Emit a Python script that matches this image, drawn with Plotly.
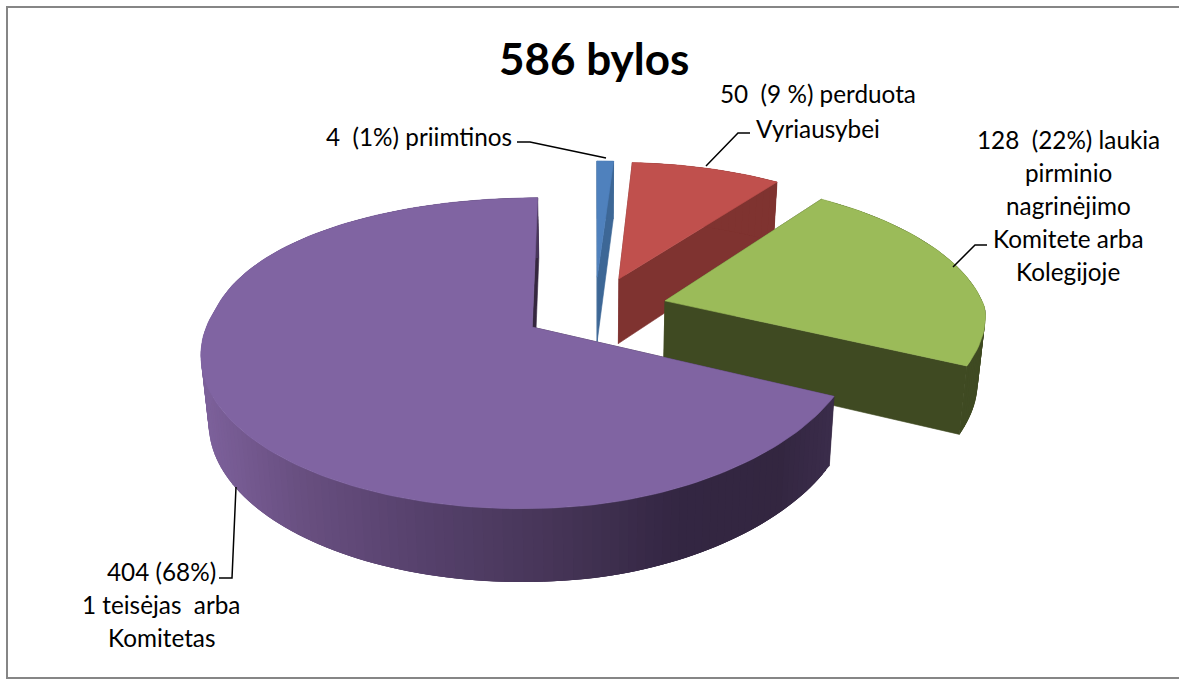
import math
import plotly.graph_objects as go

# ---- data ----
percent_shares = [1, 9, 22, 68]
top_colors = ["#4F81BD", "#C0504D", "#9BBB59", "#8064A2"]
side_colors = ["#3D6796", "#7F3330", "#3F4A22", "#35273F"]
title = "586 bylos"
label_lines = [
    ["4  (1%) priimtinos"],
    ["50  (9 %) perduota", "Vyriausybei"],
    ["128  (22%) laukia", "pirminio", "nagrinėjimo", "Komitete arba", "Kolegijoje"],
    ["404 (68%)", "1 teisėjas  arba", "Komitetas"],
]
label_x = [419, 818, 1068, 161]
label_y0 = [136, 93, 139, 571]
label_step = [33, 35, 33, 33]
purple_stops = [(205, (0x7C, 0x60, 0x9A)), (300, (0x68, 0x4F, 0x80)), (420, (0x56, 0x41, 0x6C)),
                (560, (0x45, 0x34, 0x56)), (680, (0x33, 0x26, 0x42)), (780, (0x33, 0x26, 0x40)),
                (830, (0x3A, 0x2C, 0x4A))]
leaders = [
    [(517, 142), (530, 142), (606, 158)],
    [(750, 133), (738, 133), (706, 166)],
    [(987, 245), (975, 245), (953, 267)],
    [(219, 578), (232, 578), (236, 487)],
]

# ---- projection of the exploded, tilted pie ----
OX, OY, A, B, K, KX, DEPTH, EXPLODE = 595, 309, 320, 145, 0.165, 0.085, 66, 0.228


def project(u, v, low=False):
    w = 1 + K * v
    if u > 0:
        wx = 1 + (K if v > 0 else KX) * v
    else:
        wx = 1 + (KX if v > 0 else 0.15) * v
    x = OX + A * u / wx
    y = OY - B * v / w
    if low:
        x = OX + (x - OX) * 0.98
        y += DEPTH * (1 - 0.1 * v)
    return x, y


def purple_at(x):
    if x <= purple_stops[0][0]:
        c = purple_stops[0][1]
    elif x >= purple_stops[-1][0]:
        c = purple_stops[-1][1]
    else:
        for (x0, c0), (x1, c1) in zip(purple_stops, purple_stops[1:]):
            if x0 <= x <= x1:
                t = (x - x0) / (x1 - x0)
                c = tuple(a + (b - a) * t for a, b in zip(c0, c1))
                break
    return "rgb(%d,%d,%d)" % tuple(round(p) for p in c)


fig = go.Figure()


def poly(points, color, stroke=0.6):
    xs = [p[0] for p in points] + [points[0][0]]
    ys = [p[1] for p in points] + [points[0][1]]
    fig.add_trace(go.Scatter(x=xs, y=ys, mode="lines", fill="toself", fillcolor=color,
                             line=dict(color=color, width=stroke), hoverinfo="skip", showlegend=False))


total = sum(percent_shares)
start = 0.0
for val, tc, sc in zip(percent_shares, top_colors, side_colors):
    sweep = 2 * math.pi * val / total
    end = start + sweep
    mid = (start + end) / 2
    u0, v0 = EXPLODE * math.sin(mid), EXPLODE * math.cos(mid)
    n = max(3, int(sweep / math.radians(1.5)))
    angles = [start + sweep * i / n for i in range(n + 1)]
    rim = [(u0 + math.sin(a), v0 + math.cos(a)) for a in angles]
    # cut faces
    for (u, v) in (rim[0], rim[-1]):
        poly([project(u0, v0), project(u, v), project(u, v, True), project(u0, v0, True)], sc)
    # outer wall: each piece overlaps the next so no seams show
    for i in range(len(rim) - 1):
        j = min(i + 3, len(rim) - 1)
        part = rim[i:j + 1]
        a, b = project(*rim[i]), project(*rim[i + 1])
        color = purple_at((a[0] + b[0]) / 2) if tc == "#8064A2" else sc
        pts = [project(*p) for p in part] + [project(*p, True) for p in reversed(part)]
        poly(pts, color, 0)
    # top face
    poly([project(u0, v0)] + [project(u, v) for u, v in rim], tc)
    start = end

for path in leaders:
    fig.add_trace(go.Scatter(x=[p[0] for p in path], y=[p[1] for p in path], mode="lines",
                             line=dict(color="black", width=1.5), hoverinfo="skip", showlegend=False))

annotations = [dict(x=594, y=58, text="<b>%s</b>" % title, showarrow=False, xref="x", yref="y",
                    font=dict(family="Lato", size=44, color="black"))]
for lines, x, y0, step in zip(label_lines, label_x, label_y0, label_step):
    for i, line in enumerate(lines):
        annotations.append(dict(x=x, y=y0 + i * step, text=line.replace("  ", "&nbsp; "),
                                showarrow=False, xref="x", yref="y",
                                font=dict(family="Lato", size=24.3, color="black")))

fig.update_layout(
    width=1179, height=679, autosize=False,
    margin=dict(l=0, r=0, t=0, b=0),
    paper_bgcolor="white", plot_bgcolor="white",
    showlegend=False,
    xaxis=dict(range=[0, 1179], visible=False, fixedrange=True),
    yaxis=dict(range=[679, 0], visible=False, fixedrange=True),
    annotations=annotations,
    shapes=[dict(type="path", xref="x", yref="y", path="M 1179 7 L 7 7 L 7 678 L 1179 678",
                 line=dict(color="#868686", width=2), layer="below")],
)
fig.write_html("out.html", post_script="document.body.style.margin='0';document.body.style.overflow='hidden';",
               config={"displayModeBar": False})
